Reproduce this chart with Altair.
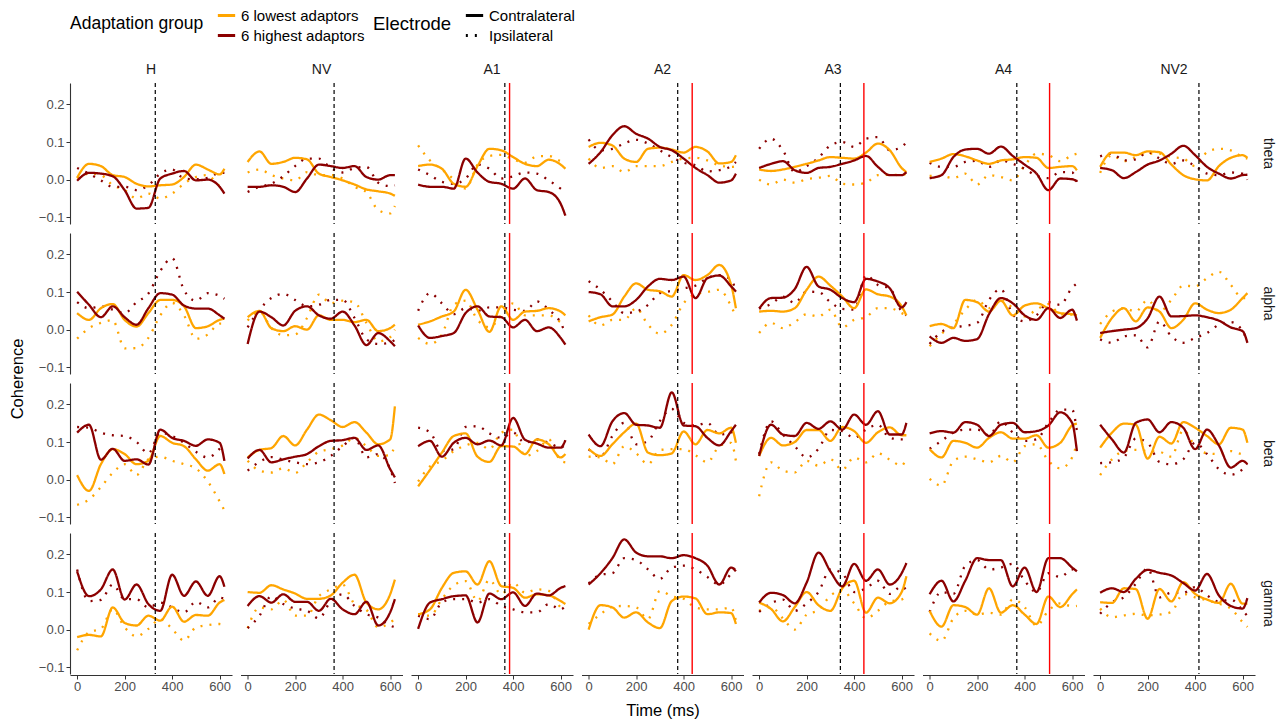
import altair as alt
import pandas as pd

TIMES = [0, 50, 100, 150, 200, 250, 300, 350, 400, 450, 500, 550, 600, 620]
CONDITIONS = ["H", "NV", "A1", "A2", "A3", "A4", "NV2"]
BANDS = ["theta", "alpha", "beta", "gamma"]
GROUPS = ["6 lowest adaptors", "6 highest adaptors"]
ELECTRODES = ["Contralateral", "Ipsilateral"]
DASHED_MS = {"H": 329, "NV": 364, "A1": 365, "A2": 375, "A3": 342, "A4": 367, "NV2": 416}
RED_MS = {"A1": 385, "A2": 436, "A3": 441, "A4": 505}

# ---- theta ----
THETA_LOW_CONTRA = {
    "H":   [0.005, 0.042, 0.036, 0.012, 0.007, -0.011, -0.018, -0.015, -0.013, 0.007, 0.040, 0.027, 0.014, 0.029],
    "NV":  [0.047, 0.075, 0.042, 0.047, 0.058, 0.054, 0.016, 0.007, -0.002, -0.013, -0.026, -0.031, -0.037, -0.043],
    "A1":  [0.036, 0.040, 0.029, -0.011, -0.019, 0.036, 0.082, 0.078, 0.060, 0.042, 0.036, 0.053, 0.040, 0.029],
    "A2":  [0.087, 0.098, 0.091, 0.056, 0.047, 0.082, 0.085, 0.080, 0.072, 0.087, 0.075, 0.043, 0.047, 0.065],
    "A3":  [0.027, 0.023, 0.027, 0.034, 0.042, 0.051, 0.060, 0.058, 0.056, 0.072, 0.096, 0.078, 0.031, 0.020],
    "A4":  [0.047, 0.056, 0.068, 0.062, 0.051, 0.042, 0.051, 0.054, 0.060, 0.058, 0.031, 0.034, 0.036, 0.025],
    "NV2": [0.034, 0.072, 0.072, 0.065, 0.075, 0.073, 0.040, 0.012, 0.001, -0.002, 0.036, 0.058, 0.065, 0.058],
}
THETA_HIGH_CONTRA = {
    "H":   [-0.003, 0.018, 0.016, 0.009, -0.028, -0.077, -0.075, 0.003, 0.016, 0.023, -0.002, 0.000, -0.019, -0.037],
    "NV":  [-0.019, -0.019, -0.015, -0.019, -0.033, 0.003, 0.040, 0.036, 0.031, 0.036, 0.007, 0.000, 0.012, 0.012],
    "A1":  [-0.013, -0.019, -0.019, -0.024, 0.056, 0.019, -0.006, -0.011, -0.024, 0.003, -0.028, -0.033, -0.064, -0.096],
    "A2":  [0.042, 0.073, 0.118, 0.142, 0.122, 0.109, 0.087, 0.078, 0.056, 0.031, 0.012, -0.008, -0.002, 0.016],
    "A3":  [0.031, 0.042, 0.049, 0.025, 0.018, 0.031, 0.034, 0.042, 0.051, 0.063, 0.034, 0.012, 0.012, 0.020],
    "A4":  [0.004, 0.012, 0.060, 0.080, 0.082, 0.069, 0.088, 0.063, 0.040, 0.016, -0.028, 0.003, 0.001, -0.004],
    "NV2": [0.031, 0.025, 0.004, 0.020, 0.040, 0.051, 0.069, 0.090, 0.065, 0.034, 0.016, 0.003, 0.012, 0.013],
}
THETA_LOW_IPSI = {
    "H":   [0.004, 0.016, 0.012, -0.015, -0.028, -0.050, -0.037, -0.050, -0.037, -0.011, 0.007, 0.012, -0.015, -0.015],
    "NV":  [0.019, 0.027, 0.012, 0.003, -0.002, 0.020, 0.012, 0.012, 0.003, -0.019, -0.033, -0.081, -0.090, -0.070],
    "A1":  [0.091, 0.051, 0.027, 0.001, -0.024, 0.040, 0.063, 0.066, 0.054, 0.045, 0.062, 0.063, 0.049, 0.045],
    "A2":  [0.056, 0.031, 0.036, 0.020, 0.036, 0.036, 0.036, 0.047, 0.056, 0.058, 0.051, 0.038, 0.034, 0.036],
    "A3":  [0.000, -0.013, 0.000, -0.008, 0.001, 0.005, 0.010, -0.011, -0.013, -0.008, 0.012, 0.013, 0.012, 0.016],
    "A4":  [0.010, 0.010, 0.004, 0.016, -0.013, 0.012, 0.007, -0.002, 0.038, 0.069, 0.065, 0.049, 0.065, 0.069],
    "NV2": [0.018, 0.065, 0.049, 0.060, 0.069, 0.069, 0.060, 0.056, 0.036, 0.073, 0.082, 0.078, 0.060, 0.056],
}
THETA_HIGH_IPSI = {
    "H":   [0.031, 0.016, -0.002, -0.019, -0.019, -0.028, -0.015, 0.016, 0.027, 0.003, 0.001, 0.005, 0.018, 0.018],
    "NV":  [-0.033, -0.019, -0.011, 0.009, 0.036, 0.056, 0.056, 0.031, 0.019, 0.031, 0.034, -0.008, -0.017, -0.015],
    "A1":  [0.027, 0.012, -0.006, -0.011, 0.003, 0.040, 0.029, 0.003, 0.009, 0.019, 0.016, -0.002, -0.024, -0.033],
    "A2":  [0.107, 0.078, 0.082, 0.096, 0.106, 0.096, 0.078, 0.060, 0.045, 0.038, 0.022, 0.025, 0.036, 0.047],
    "A3":  [0.082, 0.109, 0.078, 0.020, 0.036, 0.058, 0.091, 0.100, 0.087, 0.109, 0.113, 0.078, 0.087, 0.100],
    "A4":  [0.045, 0.034, 0.034, 0.047, 0.050, 0.034, 0.051, 0.042, 0.029, 0.010, 0.004, 0.020, 0.019, -0.006],
    "NV2": [0.062, 0.069, 0.051, 0.054, 0.073, 0.056, 0.042, 0.051, 0.036, 0.016, 0.012, 0.019, 0.016, 0.000],
}

# ---- alpha ----
ALPHA_LOW_CONTRA = {
    "H":   [0.044, 0.026, 0.057, 0.068, 0.026, 0.008, 0.044, 0.079, 0.079, 0.062, 0.004, 0.009, 0.026, 0.029],
    "NV":  [0.033, 0.050, 0.004, -0.004, 0.009, 0.000, 0.038, 0.026, 0.026, 0.020, 0.026, -0.004, 0.004, 0.013],
    "A1":  [0.013, 0.022, 0.035, 0.048, 0.106, 0.053, -0.006, 0.062, 0.026, 0.048, 0.050, 0.057, 0.048, 0.038],
    "A2":  [0.022, 0.033, 0.040, 0.088, 0.123, 0.106, 0.102, 0.088, 0.145, 0.132, 0.145, 0.172, 0.119, 0.057],
    "A3":  [0.048, 0.050, 0.048, 0.057, 0.106, 0.141, 0.117, 0.088, 0.057, 0.107, 0.094, 0.088, 0.062, 0.038],
    "A4":  [0.009, 0.015, 0.004, 0.079, 0.073, 0.048, 0.077, 0.038, 0.064, 0.070, 0.057, 0.044, 0.041, 0.038],
    "NV2": [-0.022, 0.031, 0.057, 0.022, 0.059, 0.048, 0.004, 0.026, 0.070, 0.053, 0.044, 0.053, 0.084, 0.097],
}
ALPHA_HIGH_CONTRA = {
    "H":   [0.101, 0.066, 0.033, 0.062, 0.033, 0.013, 0.057, 0.097, 0.093, 0.064, 0.056, 0.056, 0.038, 0.029],
    "NV":  [-0.038, 0.048, 0.033, 0.011, 0.050, 0.062, 0.038, 0.029, 0.048, 0.011, -0.041, -0.009, -0.031, -0.044],
    "A1":  [0.011, -0.022, -0.017, -0.009, 0.044, 0.062, 0.035, 0.033, 0.006, 0.026, -0.004, 0.006, -0.022, -0.040],
    "A2":  [0.100, 0.094, 0.062, 0.062, 0.079, 0.115, 0.135, 0.132, 0.141, 0.084, 0.137, 0.144, 0.115, 0.101],
    "A3":  [0.056, 0.084, 0.085, 0.108, 0.167, 0.115, 0.106, 0.084, 0.073, 0.135, 0.128, 0.110, 0.059, 0.073],
    "A4":  [-0.018, -0.035, -0.022, -0.030, -0.025, 0.041, 0.084, 0.070, 0.038, 0.026, 0.057, 0.031, 0.053, 0.024],
    "NV2": [-0.009, -0.004, 0.000, 0.004, 0.030, 0.088, 0.035, 0.036, 0.038, 0.033, 0.024, 0.006, -0.004, -0.035],
}
ALPHA_LOW_IPSI = {
    "H":   [-0.024, 0.004, 0.018, 0.025, -0.050, -0.049, -0.022, 0.038, 0.071, 0.038, -0.024, -0.013, 0.016, 0.016],
    "NV":  [0.024, 0.048, 0.004, -0.015, -0.013, 0.031, 0.093, 0.070, 0.077, 0.073, 0.018, -0.031, -0.020, 0.000],
    "A1":  [-0.022, -0.038, -0.013, 0.066, 0.077, 0.026, 0.006, 0.038, 0.070, 0.038, 0.038, 0.038, 0.020, 0.013],
    "A2":  [0.038, 0.011, 0.026, 0.026, 0.057, 0.013, -0.011, 0.013, 0.070, 0.094, 0.100, 0.106, 0.062, 0.035],
    "A3":  [-0.009, 0.018, 0.004, 0.020, 0.041, 0.035, 0.053, 0.006, 0.026, 0.033, 0.057, 0.057, 0.044, 0.038],
    "A4":  [-0.044, -0.011, 0.015, 0.053, 0.079, 0.057, 0.082, 0.057, 0.035, 0.053, 0.068, 0.041, 0.040, 0.026],
    "NV2": [0.015, 0.048, 0.057, 0.048, 0.079, 0.048, 0.079, 0.117, 0.115, 0.137, 0.154, 0.119, 0.084, 0.084],
}
ALPHA_HIGH_IPSI = {
    "H":   [0.073, 0.057, 0.062, 0.053, 0.044, 0.073, 0.096, 0.156, 0.190, 0.105, 0.077, 0.097, 0.090, 0.082],
    "NV":  [0.006, 0.053, 0.084, 0.095, 0.079, 0.062, 0.066, 0.079, 0.079, 0.031, -0.026, -0.038, -0.035, -0.026],
    "A1":  [0.050, 0.097, 0.070, 0.041, 0.057, 0.050, 0.059, 0.059, 0.053, 0.050, 0.075, 0.053, 0.018, -0.009],
    "A2":  [0.129, 0.106, 0.075, 0.044, 0.048, 0.066, 0.097, 0.103, 0.110, 0.117, 0.137, 0.145, 0.132, 0.103],
    "A3":  [0.056, 0.068, 0.088, 0.071, 0.101, 0.100, 0.073, 0.055, 0.053, 0.145, 0.119, 0.110, 0.048, 0.038],
    "A4":  [-0.038, -0.006, 0.006, 0.010, 0.018, 0.079, 0.108, 0.040, 0.022, 0.038, 0.073, 0.066, 0.112, 0.123],
    "NV2": [-0.026, -0.035, -0.018, -0.015, -0.047, 0.022, -0.018, -0.035, -0.022, -0.009, 0.013, 0.020, -0.004, -0.031],
}

# ---- beta ----
BETA_LOW_CONTRA = {
    "H":   [0.012, -0.030, 0.041, 0.081, 0.068, 0.041, 0.050, 0.116, 0.098, 0.089, 0.054, 0.024, 0.041, 0.015],
    "NV":  [0.059, 0.079, 0.084, 0.116, 0.091, 0.133, 0.173, 0.158, 0.140, 0.153, 0.125, 0.094, 0.107, 0.195],
    "A1":  [-0.018, 0.026, 0.072, 0.116, 0.123, 0.061, 0.047, 0.089, 0.088, 0.068, 0.107, 0.094, 0.059, 0.068],
    "A2":  [0.082, 0.063, 0.094, 0.126, 0.149, 0.072, 0.065, 0.070, 0.128, 0.094, 0.132, 0.123, 0.138, 0.098],
    "A3":  [0.063, 0.111, 0.091, 0.100, 0.132, 0.132, 0.103, 0.140, 0.129, 0.098, 0.126, 0.139, 0.118, 0.118],
    "A4":  [0.081, 0.059, 0.103, 0.098, 0.085, 0.111, 0.126, 0.109, 0.109, 0.118, 0.085, 0.098, 0.144, 0.149],
    "NV2": [0.085, 0.125, 0.149, 0.146, 0.056, 0.114, 0.096, 0.153, 0.138, 0.116, 0.094, 0.138, 0.133, 0.098],
}
BETA_HIGH_CONTRA = {
    "H":   [0.125, 0.146, 0.053, 0.082, 0.050, 0.054, 0.040, 0.133, 0.111, 0.103, 0.090, 0.107, 0.098, 0.050],
    "NV":  [0.056, 0.079, 0.046, 0.054, 0.061, 0.068, 0.089, 0.103, 0.105, 0.111, 0.079, 0.091, 0.028, 0.006],
    "A1":  [0.089, 0.103, 0.061, 0.098, 0.111, 0.094, 0.104, 0.091, 0.164, 0.106, 0.096, 0.085, 0.085, 0.105],
    "A2":  [0.120, 0.089, 0.155, 0.177, 0.146, 0.144, 0.138, 0.232, 0.144, 0.142, 0.111, 0.091, 0.129, 0.146],
    "A3":  [0.063, 0.146, 0.120, 0.116, 0.151, 0.135, 0.155, 0.133, 0.173, 0.146, 0.182, 0.120, 0.120, 0.151],
    "A4":  [0.123, 0.129, 0.125, 0.153, 0.146, 0.116, 0.146, 0.151, 0.126, 0.129, 0.144, 0.179, 0.151, 0.076],
    "NV2": [0.146, 0.107, 0.072, 0.151, 0.160, 0.126, 0.153, 0.138, 0.081, 0.133, 0.091, 0.032, 0.050, 0.041],
}
BETA_LOW_IPSI = {
    "H":   [-0.067, -0.053, -0.020, 0.018, 0.041, 0.012, 0.054, 0.061, 0.050, 0.041, 0.030, -0.005, -0.058, -0.082],
    "NV":  [0.050, 0.024, 0.019, 0.030, 0.018, 0.046, 0.074, 0.081, 0.091, 0.111, 0.089, 0.063, 0.065, 0.094],
    "A1":  [-0.005, 0.035, 0.050, 0.076, 0.091, 0.098, 0.081, 0.125, 0.133, 0.063, 0.076, 0.107, 0.050, 0.046],
    "A2":  [0.061, 0.059, 0.041, 0.089, 0.070, 0.041, 0.079, 0.081, 0.081, 0.065, 0.046, 0.089, 0.098, 0.050],
    "A3":  [-0.044, 0.046, 0.024, 0.019, 0.050, 0.037, 0.054, 0.026, 0.059, 0.046, 0.070, 0.053, 0.037, 0.059],
    "A4":  [0.002, -0.016, 0.050, 0.061, 0.054, 0.046, 0.063, 0.046, 0.089, 0.094, 0.050, 0.030, 0.059, 0.098],
    "NV2": [0.012, 0.054, 0.076, 0.079, 0.076, 0.074, 0.061, 0.132, 0.089, 0.070, 0.068, 0.076, 0.068, 0.068],
}
BETA_HIGH_IPSI = {
    "H":   [0.140, 0.138, 0.125, 0.118, 0.116, 0.100, 0.070, 0.125, 0.116, 0.098, 0.074, 0.059, 0.082, 0.096],
    "NV":  [0.024, 0.047, 0.060, 0.053, 0.046, 0.041, 0.046, 0.063, 0.089, 0.111, 0.059, 0.068, 0.028, -0.009],
    "A1":  [0.138, 0.126, 0.076, 0.081, 0.140, 0.142, 0.123, 0.111, 0.125, 0.098, 0.107, 0.098, 0.085, 0.094],
    "A2":  [0.081, 0.061, 0.116, 0.151, 0.094, 0.103, 0.156, 0.188, 0.151, 0.144, 0.151, 0.120, 0.125, 0.133],
    "A3":  [0.068, 0.155, 0.120, 0.089, 0.059, 0.082, 0.132, 0.129, 0.111, 0.133, 0.146, 0.111, 0.107, 0.107],
    "A4":  [0.082, 0.103, 0.125, 0.133, 0.133, 0.118, 0.155, 0.125, 0.103, 0.107, 0.151, 0.186, 0.186, 0.129],
    "NV2": [0.044, 0.046, 0.059, 0.109, 0.098, 0.047, 0.041, 0.054, 0.098, 0.068, 0.028, 0.013, 0.028, 0.041],
}

# ---- gamma ----
GAMMA_LOW_CONTRA = {
    "H":   [-0.020, -0.014, -0.018, 0.059, 0.018, 0.011, 0.037, 0.024, 0.061, 0.021, 0.039, 0.037, 0.072, 0.079],
    "NV":  [0.100, 0.098, 0.118, 0.107, 0.096, 0.082, 0.082, 0.091, 0.125, 0.146, 0.072, 0.054, 0.094, 0.133],
    "A1":  [0.041, 0.054, 0.111, 0.151, 0.155, 0.120, 0.182, 0.116, 0.111, 0.085, 0.094, 0.091, 0.076, 0.068],
    "A2":  [0.000, 0.065, 0.059, 0.032, 0.046, 0.019, 0.004, 0.076, 0.088, 0.083, 0.041, 0.046, 0.044, 0.015],
    "A3":  [0.072, 0.055, 0.022, 0.060, 0.100, 0.065, 0.050, 0.110, 0.130, 0.045, 0.085, 0.070, 0.100, 0.142],
    "A4":  [0.050, 0.008, 0.065, 0.060, 0.040, 0.110, 0.045, 0.065, 0.040, 0.015, 0.088, 0.060, 0.094, 0.107],
    "NV2": [0.073, 0.071, 0.110, 0.108, 0.029, 0.108, 0.075, 0.126, 0.095, 0.080, 0.071, 0.122, 0.069, 0.069],
}
GAMMA_HIGH_CONTRA = {
    "H":   [0.155, 0.089, 0.107, 0.160, 0.080, 0.120, 0.068, 0.050, 0.146, 0.090, 0.128, 0.090, 0.142, 0.114],
    "NV":  [0.063, 0.089, 0.072, 0.094, 0.074, 0.074, 0.050, 0.082, 0.054, 0.041, 0.074, 0.011, 0.046, 0.081],
    "A1":  [0.002, 0.072, 0.081, 0.089, 0.091, 0.019, 0.096, 0.081, 0.099, 0.063, 0.096, 0.091, 0.111, 0.116],
    "A2":  [0.120, 0.150, 0.190, 0.240, 0.205, 0.195, 0.195, 0.190, 0.198, 0.190, 0.170, 0.120, 0.165, 0.155],
    "A3":  [0.072, 0.098, 0.092, 0.070, 0.125, 0.205, 0.155, 0.115, 0.175, 0.130, 0.160, 0.120, 0.150, 0.177],
    "A4":  [0.094, 0.130, 0.075, 0.130, 0.190, 0.185, 0.185, 0.115, 0.165, 0.100, 0.190, 0.190, 0.165, 0.155],
    "NV2": [0.098, 0.110, 0.100, 0.135, 0.159, 0.151, 0.144, 0.124, 0.104, 0.148, 0.091, 0.063, 0.056, 0.084],
}
GAMMA_LOW_IPSI = {
    "H":   [-0.055, -0.007, 0.002, 0.054, 0.006, -0.018, 0.002, 0.028, 0.002, -0.029, 0.006, 0.012, 0.015, 0.011],
    "NV":  [0.004, 0.059, 0.054, 0.079, 0.037, 0.037, 0.089, 0.107, 0.120, 0.068, 0.053, 0.006, 0.019, 0.028],
    "A1":  [0.041, 0.037, 0.081, 0.118, 0.129, 0.076, 0.133, 0.094, 0.125, 0.098, 0.107, 0.103, 0.059, 0.050],
    "A2":  [0.015, 0.041, 0.061, 0.063, 0.059, 0.028, 0.103, 0.089, 0.082, 0.059, 0.054, 0.054, 0.059, 0.024],
    "A3":  [0.050, 0.060, 0.030, 0.000, 0.040, 0.052, 0.090, 0.105, 0.070, 0.030, 0.050, 0.075, 0.080, 0.088],
    "A4":  [-0.010, -0.030, 0.030, 0.050, 0.040, 0.045, 0.040, 0.080, 0.060, 0.010, 0.050, 0.070, 0.062, 0.063],
    "NV2": [0.056, 0.033, 0.038, 0.042, 0.038, 0.040, 0.047, 0.095, 0.086, 0.078, 0.069, 0.056, 0.020, 0.007],
}
GAMMA_HIGH_IPSI = {
    "H":   [0.160, 0.076, 0.079, 0.120, 0.081, 0.081, 0.059, 0.072, 0.059, 0.046, 0.074, 0.059, 0.085, 0.082],
    "NV":  [0.004, 0.037, 0.089, 0.068, 0.056, 0.050, 0.030, 0.076, 0.094, 0.063, 0.041, 0.032, 0.011, 0.006],
    "A1":  [0.037, 0.028, 0.072, 0.081, 0.081, 0.072, 0.081, 0.063, 0.054, 0.046, 0.046, 0.068, 0.054, 0.063],
    "A2":  [0.123, 0.146, 0.150, 0.190, 0.185, 0.160, 0.135, 0.165, 0.170, 0.160, 0.140, 0.120, 0.150, 0.170],
    "A3":  [0.047, 0.070, 0.080, 0.050, 0.070, 0.100, 0.160, 0.150, 0.100, 0.110, 0.130, 0.095, 0.115, 0.105],
    "A4":  [0.047, 0.100, 0.095, 0.170, 0.185, 0.160, 0.165, 0.175, 0.130, 0.100, 0.150, 0.140, 0.160, 0.150],
    "NV2": [0.042, 0.073, 0.086, 0.122, 0.163, 0.086, 0.098, 0.098, 0.113, 0.091, 0.075, 0.080, 0.051, 0.036],
}

SERIES = [
    ("theta", GROUPS[0], ELECTRODES[0], THETA_LOW_CONTRA),
    ("theta", GROUPS[1], ELECTRODES[0], THETA_HIGH_CONTRA),
    ("theta", GROUPS[0], ELECTRODES[1], THETA_LOW_IPSI),
    ("theta", GROUPS[1], ELECTRODES[1], THETA_HIGH_IPSI),
    ("alpha", GROUPS[0], ELECTRODES[0], ALPHA_LOW_CONTRA),
    ("alpha", GROUPS[1], ELECTRODES[0], ALPHA_HIGH_CONTRA),
    ("alpha", GROUPS[0], ELECTRODES[1], ALPHA_LOW_IPSI),
    ("alpha", GROUPS[1], ELECTRODES[1], ALPHA_HIGH_IPSI),
    ("beta", GROUPS[0], ELECTRODES[0], BETA_LOW_CONTRA),
    ("beta", GROUPS[1], ELECTRODES[0], BETA_HIGH_CONTRA),
    ("beta", GROUPS[0], ELECTRODES[1], BETA_LOW_IPSI),
    ("beta", GROUPS[1], ELECTRODES[1], BETA_HIGH_IPSI),
    ("gamma", GROUPS[0], ELECTRODES[0], GAMMA_LOW_CONTRA),
    ("gamma", GROUPS[1], ELECTRODES[0], GAMMA_HIGH_CONTRA),
    ("gamma", GROUPS[0], ELECTRODES[1], GAMMA_LOW_IPSI),
    ("gamma", GROUPS[1], ELECTRODES[1], GAMMA_HIGH_IPSI),
]

rows = []
# ipsilateral first, then contralateral; orange before dark red
for electrode in ["Ipsilateral", "Contralateral"]:
    for group in GROUPS:
        for band, g, e, table in SERIES:
            if g != group or e != electrode:
                continue
            for cond in CONDITIONS:
                for t, v in zip(TIMES, table[cond]):
                    rows.append({"kind": "line", "band": band, "cond": cond, "group": g,
                                 "electrode": e, "series": f"{e}-{g}", "time": t, "value": v})
for band in BANDS:
    for cond in CONDITIONS:
        rows.append({"kind": "dash", "band": band, "cond": cond, "time": DASHED_MS[cond]})
        if cond in RED_MS:
            rows.append({"kind": "red", "band": band, "cond": cond, "time": RED_MS[cond]})
df = pd.DataFrame(rows)

x_enc = alt.X("time:Q",
              scale=alt.Scale(domain=[-30, 652], nice=False, zero=False),
              axis=alt.Axis(values=[0, 200, 400, 600], title=None, labelPadding=1))

lines = alt.Chart().mark_line(strokeWidth=2.3, interpolate="monotone").encode(
    x=x_enc,
    y=alt.Y("value:Q",
            scale=alt.Scale(domain=[-0.118, 0.257], nice=False, zero=False),
            axis=alt.Axis(values=[-0.1, 0.0, 0.1, 0.2], format=".1f", title=None)),
    color=alt.Color("group:N", scale=alt.Scale(domain=GROUPS, range=["#FFA500", "#8B0000"]),
                    legend=alt.Legend(title="Adaptation group", symbolStrokeWidth=3)),
    strokeDash=alt.StrokeDash("electrode:N", scale=alt.Scale(domain=ELECTRODES, range=[[1, 0], [2, 7]]),
                              legend=alt.Legend(title="Electrode", symbolStrokeColor="black",
                                                symbolStrokeWidth=3, titleFontSize=18.5)),
    detail="series:N",
).transform_filter(alt.datum.kind == "line")

dash = alt.Chart().mark_rule(color="black", strokeDash=[4, 3], strokeWidth=1.2).encode(
    x=alt.X("time:Q")
).transform_filter(alt.datum.kind == "dash")

red = alt.Chart().mark_rule(color="#FF0000", strokeWidth=1.4).encode(
    x=alt.X("time:Q")
).transform_filter(alt.datum.kind == "red")

chart = (
    alt.layer(lines, dash, red, data=df)
    .properties(width=162, height=141)
    .facet(
        row=alt.Row("band:N", sort=BANDS, title="Coherence",
                    header=alt.Header(titleOrient="left", labelOrient="right", labelAngle=90,
                                      labelFontSize=14, labelPadding=6,
                                      titleFontSize=16.5, titleFontWeight="normal",
                                      titleColor="black", titlePadding=2)),
        column=alt.Column("cond:N", sort=CONDITIONS, title="Time (ms)",
                          header=alt.Header(titleOrient="bottom", labelOrient="top",
                                            labelFontSize=14, labelPadding=5,
                                            titleFontSize=16.5, titleFontWeight="normal",
                                            titleColor="black", titlePadding=0)),
        spacing={"row": 7, "column": 8.5},
    )
    .configure(font="Liberation Sans", background="white",
               padding={"left": 9, "top": 5, "right": 5, "bottom": 1})
    .configure_view(stroke=None)
    .configure_axis(grid=False, domainColor="#333333", tickColor="#333333", domainWidth=1.1,
                    tickSize=4, labelColor="#4d4d4d", labelFontSize=13)
    .configure_header(labelColor="#1a1a1a")
    .configure_legend(orient="top", direction="vertical", titleOrient="left",
                      titleAnchor="middle", titleBaseline="middle",
                      titleFontSize=17.5, titleFontWeight="normal", titleColor="black",
                      labelFontSize=15, labelColor="black", symbolType="stroke",
                      symbolSize=300, rowPadding=1, titlePadding=12, offset=19)
)

chart.save("out.html", embed_options={"renderer": "svg", "actions": False})
